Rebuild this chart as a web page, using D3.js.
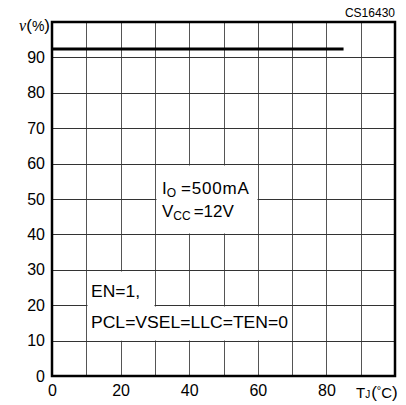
<!DOCTYPE html>
<html>
<head>
<meta charset="utf-8">
<script src="https://cdn.jsdelivr.net/npm/d3@7"></script>
<style>
html,body{margin:0;padding:0;background:#fff;}
svg{display:block;}
text{font-family:"Liberation Sans",Arial,sans-serif;fill:#000;}
</style>
</head>
<body>
<svg id="chart" width="406" height="405"></svg>
<script>
// ---- data ----
const xDomain = [0, 100];
const yDomain = [0, 100];
const xTicks = [0, 20, 40, 60, 80];
const yTicks = [0, 10, 20, 30, 40, 50, 60, 70, 80, 90];
const xGrid = [10, 20, 30, 40, 50, 60, 70, 80, 90];
const yGrid = [10, 20, 30, 40, 50, 60, 70, 80, 90];
const seriesT = [0, 85];          // junction temperature (°C)
const seriesEff = [92.4, 92.4];   // efficiency (%)
// annotation boxes in data coordinates [x0,x1,y0,y1]
const box1 = [30, 60, 40, 60];
const box2a = [10, 30, 10, 30];
const box2b = [10, 70, 10, 20];

const svg = d3.select("#chart");
const L = 52, R = 395, T = 22, B = 376;
const x = d3.scaleLinear().domain(xDomain).range([L, R]);
const y = d3.scaleLinear().domain(yDomain).range([B, T]);

// gridlines
const g = svg.append("g");
g.selectAll("line.v").data(xGrid).enter().append("line")
  .attr("x1", d => Math.round(x(d)) + 0.5).attr("x2", d => Math.round(x(d)) + 0.5)
  .attr("y1", T).attr("y2", B).attr("stroke", "#555").attr("stroke-width", 1);
g.selectAll("line.h").data(yGrid).enter().append("line")
  .attr("y1", d => Math.round(y(d)) + 0.5).attr("y2", d => Math.round(y(d)) + 0.5)
  .attr("x1", L).attr("x2", R).attr("stroke", "#333").attr("stroke-width", 1);

// white annotation boxes (keep outer grid edges)
function whiteBox(b) {
  const x0 = Math.round(x(b[0])) + 1.5, x1 = Math.round(x(b[1])) - 0.5;
  const y0 = Math.round(y(b[3])) + 1.5, y1 = Math.round(y(b[2])) - 0.5;
  svg.append("rect").attr("x", x0).attr("y", y0)
    .attr("width", x1 - x0).attr("height", y1 - y0).attr("fill", "#fff");
}
whiteBox(box1); whiteBox(box2a); whiteBox(box2b);

// data line
const line = d3.line().x((d, i) => x(seriesT[i])).y(d => y(d));
svg.append("path").datum(seriesEff).attr("d", line)
  .attr("fill", "none").attr("stroke", "#000").attr("stroke-width", 3);

// frame
svg.append("rect").attr("x", L).attr("y", T).attr("width", R - L).attr("height", B - T)
  .attr("fill", "none").attr("stroke", "#000").attr("stroke-width", 2.5);

// axes labels
const yAxis = d3.axisLeft(y).tickValues(yTicks).tickSize(0).tickPadding(7).tickFormat(d3.format("d"));
const ya = svg.append("g").attr("transform", `translate(${L},0)`).call(yAxis);
ya.select(".domain").remove();
ya.selectAll("text").attr("font-size", 16).attr("font-family", "Liberation Sans, Arial, sans-serif").attr("fill", "#000");

const xAxis = d3.axisBottom(x).tickValues(xTicks).tickSize(0).tickPadding(9).tickFormat(d3.format("d"));
const xa = svg.append("g").attr("transform", `translate(0,${B})`).call(xAxis);
xa.select(".domain").remove();
xa.selectAll("text").attr("font-size", 16).attr("font-family", "Liberation Sans, Arial, sans-serif").attr("fill", "#000");

// y title
const yt = svg.append("text").attr("x", 50).attr("y", 31).attr("text-anchor", "end").attr("font-size", 16);
yt.append("tspan").attr("font-family", "Liberation Serif, serif").attr("font-style", "italic").text("ν");
yt.append("tspan").attr("font-size", 17).text("(");
yt.append("tspan").attr("font-size", 14).text("%");
yt.append("tspan").attr("font-size", 17).text(")");

// x title
const xt = svg.append("text").attr("x", 356).attr("y", 398).attr("font-size", 15);
xt.append("tspan").text("T");
xt.append("tspan").attr("font-size", 10).attr("dy", 0).text("J");
xt.append("tspan").attr("font-size", 17).attr("dx", 1).text("(");
xt.append("tspan").attr("font-size", 11).attr("dy", -4).text("°");
xt.append("tspan").attr("font-size", 15).attr("dy", 4).text("C");
xt.append("tspan").attr("font-size", 17).text(")");

// code label
svg.append("text").attr("x", 395).attr("y", 17).attr("text-anchor", "end")
  .attr("font-size", 12).text("CS16430");

// annotations
const a1 = svg.append("text").attr("x", 162).attr("y", 194).attr("font-size", 17);
a1.append("tspan").text("I");
a1.append("tspan").attr("font-size", 12).attr("dy", 3).text("O");
a1.append("tspan").attr("dy", -3).attr("dx", 5).attr("letter-spacing", 0.8).text("=500mA");
const a2 = svg.append("text").attr("x", 162).attr("y", 217).attr("font-size", 17);
a2.append("tspan").text("V");
a2.append("tspan").attr("font-size", 12).attr("dy", 3).text("CC");
a2.append("tspan").attr("dy", -3).attr("dx", 3).text("=12V");

svg.append("text").attr("x", 91).attr("y", 297).attr("font-size", 16)
  .attr("textLength", 49).attr("lengthAdjust", "spacingAndGlyphs").text("EN=1,");
svg.append("text").attr("x", 91).attr("y", 328).attr("font-size", 16)
  .attr("textLength", 197).attr("lengthAdjust", "spacingAndGlyphs").text("PCL=VSEL=LLC=TEN=0");
</script>
</body>
</html>
